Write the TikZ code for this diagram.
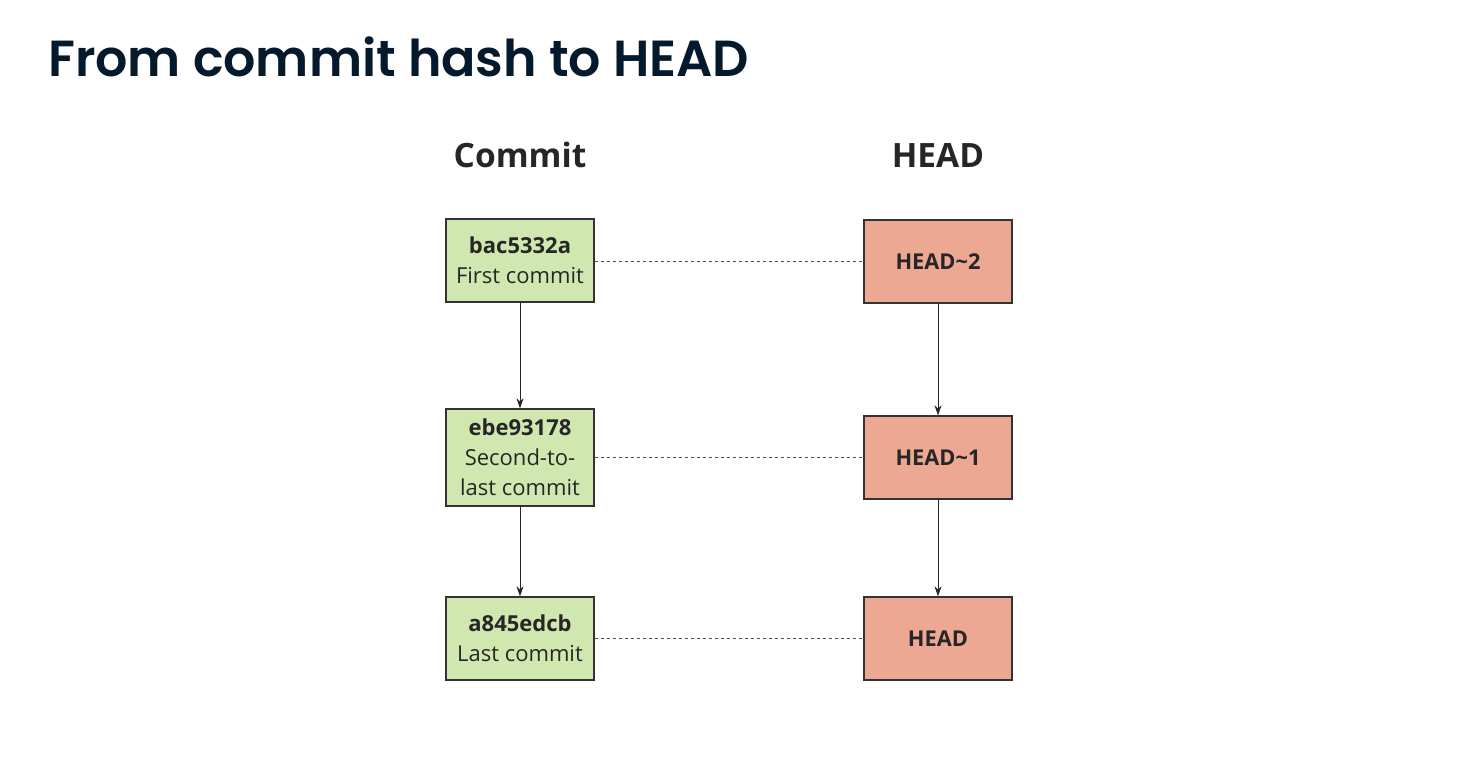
\documentclass[tikz,border=0pt]{standalone}
\usepackage{fontspec}
\setmainfont{Open Sans}
\newfontfamily\titlefont{Poppins}[UprightFont={* SemiBold}]
\usetikzlibrary{arrows.meta}
\definecolor{titlecol}{HTML}{05192D}
\definecolor{commitfill}{HTML}{D0E8AF}
\definecolor{headfill}{HTML}{EDA894}
\definecolor{boxline}{HTML}{333333}
\begin{document}
\begin{tikzpicture}[x=1pt,y=-1pt,
  box/.style={draw=boxline,line width=1.4pt,minimum width=148pt,inner sep=0pt,align=center,font=\fontsize{22}{30}\selectfont,text=black!85},
  cbox/.style={box,fill=commitfill},
  hbox/.style={box,fill=headfill,font=\fontsize{21.8}{30}\selectfont\bfseries},
  arr/.style={-{Stealth[length=10pt,width=7pt]},line width=0.8pt,draw=black!85},
  dashline/.style={dashed,dash pattern=on 3pt off 3pt,line width=0.8pt,draw=black!70},
  hdr/.style={font=\fontsize{33.5}{40}\selectfont\bfseries,text=black!85}]
\useasboundingbox (0,0) rectangle (1480,760);
\fill[white] (0,0) rectangle (1480,760);
\node[anchor=base west,inner sep=0pt,text=titlecol,font=\titlefont\fontsize{50.7}{58}\selectfont] (title) at (48,77) {From commit hash to HEAD};
\node[hdr,anchor=base] (hc) at (520,167) {Commit};
\node[hdr,anchor=base] (hh) at (938,167) {HEAD};
\node[cbox,minimum height=83pt] (c1) at (520,260.5) {\textbf{bac5332a}\\First commit};
\node[cbox,minimum height=97pt] (c2) at (520,457.5) {\textbf{ebe93178}\\Second-to-\\last commit};
\node[cbox,minimum height=83pt] (c3) at (520,638.5) {\textbf{a845edcb}\\Last commit};
\node[hbox,minimum height=83pt] (h2) at (938,261.5) {HEAD\textasciitilde2};
\node[hbox,minimum height=83pt] (h1) at (938,457.5) {HEAD\textasciitilde1};
\node[hbox,minimum height=83pt] (h0) at (938,638.5) {HEAD};
\draw[arr] (c1) -- (c2);
\draw[arr] (c2) -- (c3);
\draw[arr] (h2) -- (h1);
\draw[arr] (h1) -- (h0);
\draw[dashline] (c1.east |- h2.west) -- (h2.west);
\draw[dashline] (c2.east) -- (h1.west);
\draw[dashline] (c3.east) -- (h0.west);
\end{tikzpicture}
\end{document}
